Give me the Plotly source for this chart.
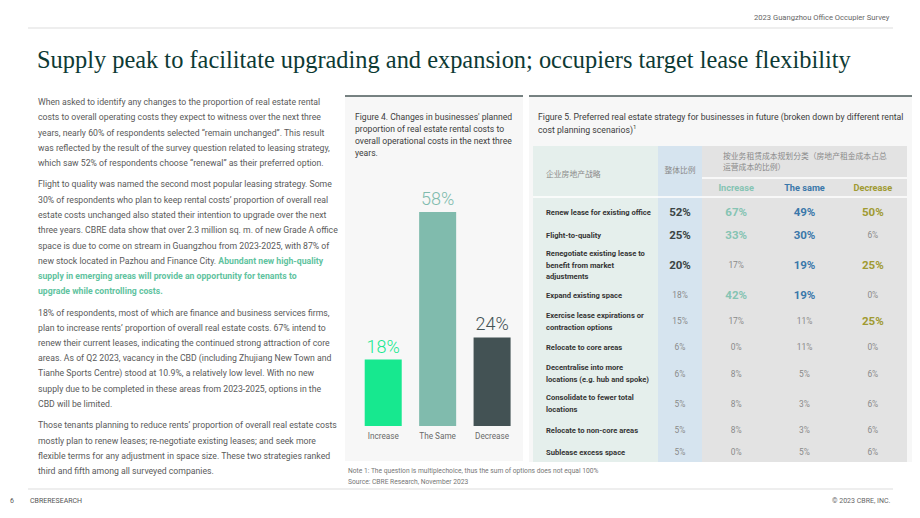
import plotly.graph_objects as go

W, H = 920, 518

# ---------------- data ----------------
fig4_categories = ["Increase", "The Same", "Decrease"]
fig4_values = [18, 58, 24]

fig5_strategies = [
    "Renew lease for existing office",
    "Flight-to-quality",
    "Renegotiate existing lease to<br>benefit from market<br>adjustments",
    "Expand existing space",
    "Exercise lease expirations or<br>contraction options",
    "Relocate to core areas",
    "Decentralise into more<br>locations (e.g. hub and spoke)",
    "Consolidate to fewer total<br>locations",
    "Relocate to non-core areas",
    "Sublease excess space",
]
fig5_overall = [52, 25, 20, 18, 15, 6, 6, 5, 5, 5]
fig5_increase = [67, 33, 17, 42, 17, 0, 8, 8, 8, 0]
fig5_same = [49, 30, 19, 19, 11, 11, 5, 3, 3, 5]
fig5_decrease = [50, 6, 25, 0, 25, 0, 6, 6, 6, 6]
fig5_scenarios = ["Increase", "The same", "Decrease"]
fig5_head_strategy = "企业房地产战略"
fig5_head_overall = "整体比例"
fig5_head_group = "按业务租赁成本规划分类（房地产租金成本占总<br>运营成本的比例）"

# ---------------- style ----------------
SANS = "Roboto, Liberation Sans, sans-serif"
SERIF = "Liberation Serif, DejaVu Serif, serif"
CJK = "Noto Sans CJK SC, sans-serif"
TITLE_C = "#0d3a34"
TEXT_C = "#5a5a5a"
GREEN_TXT = "#5fc3a0"
BAR_COLORS = ["#17E88F", "#80BBAD", "#435254"]
SCEN_COLORS = ["#86c4b3", "#3b78aa", "#a09a32"]
OVERALL_HI = "#3b4545"
LOW_C = "#8a8a8a"
LABEL_C = "#353535"
PANEL_BG = "#f7f7f7"
COL_BG = ["#e5efec", "#d6e4ef", "#e3e3e3"]


def X(px):
    return px / W


def Y(py):
    return 1 - py / H


fig = go.Figure()
shapes = []
ann = []


def text(px, py, s, size, color, family=SANS, xanchor="left", yanchor="middle", **kw):
    ann.append(dict(x=X(px), y=Y(py), xref="paper", yref="paper", text=s, showarrow=False,
                    xanchor=xanchor, yanchor=yanchor, align=xanchor if xanchor != "center" else "center",
                    font=dict(size=size, color=color, family=family), **kw))


def text_lines(px, py, s, size, color, step, **kw):
    for k, line in enumerate(s.split("<br>")):
        text(px, py + k * step, line, size, color, **kw)


def hline(x0, x1, py, color, width):
    shapes.append(dict(type="line", xref="paper", yref="paper", x0=X(x0), x1=X(x1), y0=Y(py), y1=Y(py),
                       line=dict(color=color, width=width), layer="below"))


def prect(x0, y0, x1, y1, color):
    shapes.append(dict(type="rect", xref="paper", yref="paper", x0=X(x0), x1=X(x1), y0=Y(y1), y1=Y(y0),
                       fillcolor=color, line=dict(width=0), layer="below"))


# ---------------- slide chrome ----------------
text(892, 17, "2023 Guangzhou Office Occupier Survey", 7.6, "#666666", xanchor="right")
hline(28, 893, 28, "#dddddd", 1)
text(35, 60, "Supply peak to facilitate upgrading and expansion; occupiers target lease flexibility",
     24.4, TITLE_C, family=SERIF)

paragraphs = [
    ["When asked to identify any changes to the proportion of real estate rental",
     "costs to overall operating costs they expect to witness over the next three",
     "years, nearly 60% of respondents selected “remain unchanged”. This result",
     "was reflected by the result of the survey question related to leasing strategy,",
     "which saw 52% of respondents choose “renewal” as their preferred option."],
    ["Flight to quality was named the second most popular leasing strategy. Some",
     "30% of respondents who plan to keep rental costs’ proportion of overall real",
     "estate costs unchanged also stated their intention to upgrade over the next",
     "three years. CBRE data show that over 2.3 million sq. m. of new Grade A office",
     "space is due to come on stream in Guangzhou from 2023-2025, with 87% of",
     f"new stock located in Pazhou and Finance City. <span style='color:{GREEN_TXT}'><b>Abundant new high-quality</b></span>",
     f"<span style='color:{GREEN_TXT}'><b>supply in emerging areas will provide an opportunity for tenants to</b></span>",
     f"<span style='color:{GREEN_TXT}'><b>upgrade while controlling costs.</b></span>"],
    ["18% of respondents, most of which are finance and business services firms,",
     "plan to increase rents’ proportion of overall real estate costs. 67% intend to",
     "renew their current leases, indicating the continued strong attraction of core",
     "areas. As of Q2 2023, vacancy in the CBD (including Zhujiang New Town and",
     "Tianhe Sports Centre) stood at 10.9%, a relatively low level. With no new",
     "supply due to be completed in these areas from 2023-2025, options in the",
     "CBD will be limited."],
    ["Those tenants planning to reduce rents’ proportion of overall real estate costs",
     "mostly plan to renew leases; re-negotiate existing leases; and seek more",
     "flexible terms for any adjustment in space size. These two strategies ranked",
     "third and fifth among all surveyed companies."],
]
ly = 102.0
for para in paragraphs:
    for line in para:
        text(36, ly, line, 8.7, TEXT_C)
        ly += 15.3
    ly += 5.8

# panels
prect(345, 96, 523, 461, PANEL_BG)
hline(345, 523, 96, "#4a5859", 1.5)
prect(529, 96, 912, 462, PANEL_BG)
hline(529, 912, 96, "#4a5859", 1.5)

text_lines(353, 117, "Figure 4. Changes in businesses' planned<br>proportion of real estate rental costs to<br>"
           "overall operational costs in the next three<br>years.", 8.6, "#3d3d3d", 12)
text_lines(536, 117, "Figure 5. Preferred real estate strategy for businesses in future (broken down by different rental<br>"
           "cost planning scenarios)<sup>1</sup>", 8.7, "#3d3d3d", 12)

text(346, 471, "Note 1: The question is multiplechoice, thus the sum of options does not equal 100%", 6.7, "#777777")
text(346, 482, "Source: CBRE Research, November 2023", 6.7, "#777777")
hline(28, 893, 489, "#dddddd", 1)
text(8, 501, "6", 7, "#555555")
text(28, 501, "CBRERESEARCH", 7, "#555555")
text(892, 501, "© 2023 CBRE, INC.", 7, "#666666", xanchor="right")

# ---------------- Figure 4 : bars ----------------
fig.add_trace(go.Bar(
    x=fig4_categories, y=fig4_values, width=0.68,
    marker=dict(color=BAR_COLORS, line=dict(width=0)),
    text=[f"{v}%" for v in fig4_values], textposition="outside",
    textfont=dict(size=18, color=BAR_COLORS, family=SANS, weight=300),
    cliponaxis=False, hoverinfo="skip", xaxis="x", yaxis="y"))

bar_px_per_unit = 3.69
y_top_px = 426 - bar_px_per_unit * 70
fig.update_layout(
    xaxis=dict(domain=[X(356), X(519.3)], showgrid=False, zeroline=False, showline=False, ticks="",
               tickfont=dict(size=8.2, color="#6a6a6a", family=SANS), ticklabelstandoff=4,
               fixedrange=True),
    yaxis=dict(domain=[Y(426), Y(y_top_px)], range=[0, 70], visible=False, fixedrange=True),
)

# ---------------- Figure 5 : table ----------------
col_w = [125, 44, 205 / 3, 205 / 3, 205 / 3]
edges = [0]
for w_ in col_w:
    edges.append(edges[-1] + w_)
hdr1, hdr2, body_pad = 32, 19, 4.5
frame_h = 316
line_step = 11.8
n_lines = [s.count("<br>") + 1 for s in fig5_strategies]
row_h = [22.5 + 7.5 * (n - 1) for n in n_lines]
tops = [hdr1 + hdr2 + body_pad]
for h_ in row_h:
    tops.append(tops[-1] + h_)
centers = [(tops[i] + tops[i + 1]) / 2 for i in range(len(row_h))]

fig.update_layout(
    xaxis2=dict(domain=[X(533), X(907)], range=[0, edges[-1]], visible=False, fixedrange=True,
                anchor="y2"),
    yaxis2=dict(domain=[Y(146 + frame_h), Y(146)], range=[frame_h, 0], visible=False, fixedrange=True,
                anchor="x2"),
)


def trect(x0, x1, y0, y1, color):
    shapes.append(dict(type="rect", xref="x2", yref="y2", x0=x0, x1=x1, y0=y0, y1=y1,
                       fillcolor=color, line=dict(width=0), layer="below"))


trect(edges[0], edges[1], 0, frame_h, COL_BG[0])
trect(edges[1], edges[2], 0, frame_h, COL_BG[1])
trect(edges[2], edges[5], 0, frame_h, COL_BG[2])
shapes.append(dict(type="line", xref="x2", yref="y2", x0=edges[2], x1=edges[5], y0=hdr1, y1=hdr1,
                   line=dict(color="white", width=1.5), layer="below"))
shapes.append(dict(type="line", xref="x2", yref="y2", x0=edges[0], x1=edges[5], y0=hdr1 + hdr2,
                   y1=hdr1 + hdr2, line=dict(color="white", width=1.5), layer="below"))


def mid(i):
    return (edges[i] + edges[i + 1]) / 2


def split_rows(labels, ys):
    xs_, ys_, ts_ = [], [], []
    for s, yc in zip(labels, ys):
        parts = s.split("<br>")
        for k, p in enumerate(parts):
            ys_.append(yc + (k - (len(parts) - 1) / 2) * line_step)
            ts_.append(p)
    return ys_, ts_


# header texts
fig.add_trace(go.Scatter(
    x=[13, mid(1)], y=[29, 25], mode="text", text=[fig5_head_strategy, fig5_head_overall],
    textposition=["middle right", "middle center"],
    textfont=dict(size=7.8, color="#8a8a8a", family=CJK), hoverinfo="skip", xaxis="x2", yaxis="y2"))
gy, gt = split_rows([fig5_head_group], [16.5])
fig.add_trace(go.Scatter(
    x=[edges[2] + 21] * len(gt), y=gy, mode="text", text=gt, textposition="middle right",
    textfont=dict(size=7.8, color="#8a8a8a", family=CJK), hoverinfo="skip", xaxis="x2", yaxis="y2"))
fig.add_trace(go.Scatter(
    x=[mid(2), mid(3), mid(4)], y=[hdr1 + hdr2 / 2 + 1] * 3, mode="text",
    text=[f"<b>{s}</b>" for s in fig5_scenarios], textposition="middle center",
    textfont=dict(size=9.2, color=SCEN_COLORS, family=SANS),
    hoverinfo="skip", xaxis="x2", yaxis="y2"))

# row labels
ry, rt = split_rows(fig5_strategies, [c + 0.5 for c in centers])
fig.add_trace(go.Scatter(
    x=[13] * len(rt), y=ry, mode="text",
    text=[f"<b>{s}</b>" for s in rt], textposition="middle right",
    textfont=dict(size=7.6, color=LABEL_C, family=SANS), hoverinfo="skip", xaxis="x2", yaxis="y2"))

# value columns
value_cols = [fig5_overall, fig5_increase, fig5_same, fig5_decrease]
hi_colors = [OVERALL_HI] + SCEN_COLORS
for ci, vals in enumerate(value_cols):
    third = sorted(vals, reverse=True)[2]
    txt, col, siz = [], [], []
    for v in vals:
        if v >= third:
            txt.append(f"<b>{v}%</b>")
            col.append(hi_colors[ci])
            siz.append(11.5)
        else:
            txt.append(f"{v}%")
            col.append(LOW_C)
            siz.append(8.4)
    fig.add_trace(go.Scatter(
        x=[mid(ci + 1)] * len(vals), y=[c + 0.5 for c in centers], mode="text", text=txt,
        textposition="middle center", textfont=dict(size=siz, color=col, family=SANS),
        hoverinfo="skip", xaxis="x2", yaxis="y2"))

fig.update_layout(
    width=W, height=H, margin=dict(l=0, r=0, t=0, b=0), autosize=False,
    paper_bgcolor="white", plot_bgcolor="rgba(0,0,0,0)", showlegend=False,
    shapes=shapes, annotations=ann,
)
fig.write_html("out.html")
